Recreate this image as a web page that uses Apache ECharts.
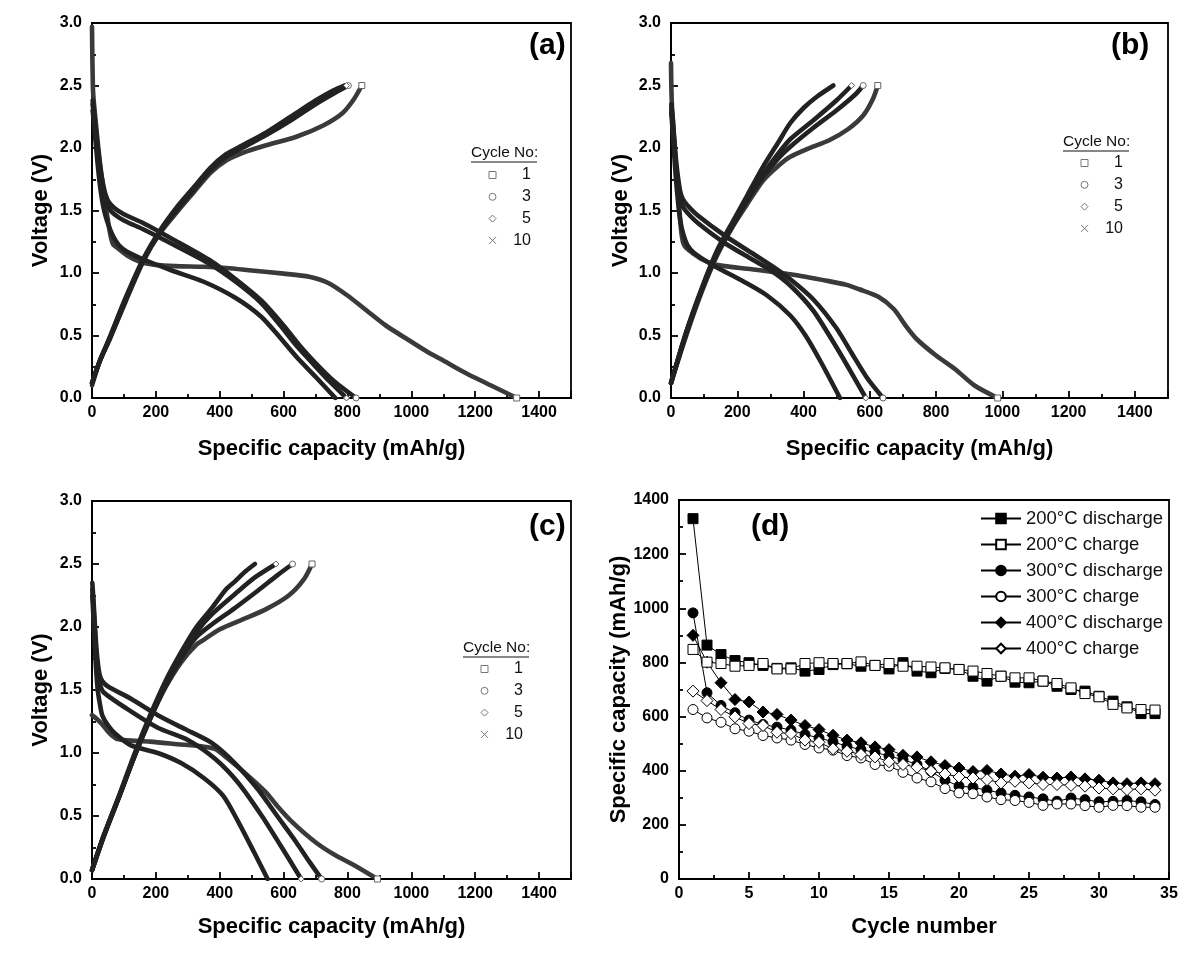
<!DOCTYPE html>
<html>
<head>
<meta charset="utf-8">
<script src="https://cdn.jsdelivr.net/npm/echarts@6/dist/echarts.min.js"></script>
<style>html,body{margin:0;padding:0;background:#fff}#c{width:1200px;height:957px}</style>
</head>
<body>
<div id="c"></div>
<script>
// ---------- Data: panel (a) 200 °C ----------
const a_dis1 = [[0,2.97],[1,2.75],[2,2.6],[3,2.47],[6,2.36],[12,2.2],[19,2.02],[26,1.86],[34,1.7],[42,1.55],[50,1.42],[58,1.3],[66,1.23],[80,1.2],[110,1.14],[150,1.09],[200,1.065],[260,1.055],[350,1.05],[420,1.04],[500,1.02],[600,0.995],[680,0.97],[740,0.92],[800,0.82],[860,0.7],[920,0.58],[1000,0.45],[1050,0.37],[1100,0.3],[1170,0.2],[1250,0.1],[1330,0]];
const a_dis3 = [[2,2.38],[7,2.27],[13,2.12],[19,1.98],[26,1.84],[34,1.72],[42,1.63],[52,1.57],[70,1.52],[100,1.47],[160,1.4],[260,1.26],[370,1.1],[450,0.95],[530,0.78],[600,0.58],[650,0.42],[700,0.28],[760,0.13],[827,0]];
const a_dis5 = [[2,2.35],[7,2.24],[13,2.08],[19,1.93],[26,1.79],[34,1.66],[42,1.58],[52,1.52],[70,1.47],[100,1.42],[160,1.35],[260,1.22],[370,1.07],[450,0.93],[530,0.76],[590,0.58],[640,0.42],[690,0.28],[745,0.13],[797,0]];
const a_dis10 = [[2,2.3],[7,2.18],[13,2.0],[19,1.84],[26,1.68],[34,1.55],[42,1.46],[52,1.38],[65,1.3],[85,1.22],[110,1.17],[160,1.11],[250,1.02],[350,0.93],[450,0.8],[530,0.65],[590,0.48],[640,0.33],[700,0.17],[762,0]];
const a_chg1 = [[0,0.1],[25,0.3],[55,0.47],[105,0.77],[160,1.09],[213,1.32],[270,1.5],[320,1.65],[370,1.8],[420,1.9],[470,1.96],[543,2.02],[640,2.09],[724,2.18],[785,2.28],[820,2.39],[845,2.5]];
const a_chg3 = [[0,0.12],[25,0.3],[55,0.47],[105,0.78],[160,1.1],[213,1.33],[270,1.52],[320,1.67],[370,1.82],[420,1.93],[470,2.0],[543,2.1],[622,2.22],[700,2.35],[760,2.44],[803,2.5]];
const a_chg5 = [[0,0.12],[25,0.3],[55,0.48],[105,0.79],[160,1.1],[213,1.33],[270,1.53],[320,1.68],[370,1.83],[420,1.94],[470,2.01],[543,2.11],[622,2.23],[700,2.36],[760,2.45],[797,2.5]];
const a_chg10 = [[0,0.12],[25,0.3],[55,0.48],[105,0.8],[160,1.11],[213,1.34],[270,1.54],[320,1.69],[370,1.84],[420,1.95],[470,2.02],[543,2.12],[622,2.25],[700,2.38],[755,2.46],[790,2.5]];

// ---------- Data: panel (b) 300 °C ----------
const b_dis1 = [[0,2.68],[1,2.5],[3,2.33],[7,2.18],[11,2.0],[16,1.84],[21,1.66],[26,1.48],[31,1.33],[37,1.24],[46,1.2],[70,1.15],[93,1.11],[130,1.07],[162,1.055],[244,1.03],[360,0.99],[476,0.935],[530,0.905],[568,0.87],[626,0.81],[673,0.71],[708,0.58],[742,0.47],[800,0.34],[858,0.23],[916,0.1],[986,0]];
const b_dis3 = [[1,2.35],[6,2.2],[11,2.03],[16,1.88],[22,1.75],[28,1.65],[36,1.59],[50,1.54],[81,1.46],[162,1.3],[244,1.16],[302,1.06],[360,0.95],[429,0.79],[499,0.56],[545,0.36],[592,0.16],[640,0]];
const b_dis5 = [[1,2.32],[6,2.16],[11,1.98],[16,1.82],[22,1.68],[28,1.59],[36,1.53],[50,1.48],[81,1.4],[162,1.24],[244,1.11],[302,1.02],[360,0.9],[429,0.7],[487,0.46],[534,0.25],[588,0]];
const b_dis10 = [[1,2.28],[6,2.1],[11,1.9],[16,1.72],[22,1.55],[28,1.42],[36,1.32],[50,1.22],[70,1.16],[128,1.06],[220,0.93],[290,0.82],[360,0.66],[406,0.5],[452,0.29],[510,0]];
const b_chg1 = [[0,0.12],[46,0.5],[93,0.85],[139,1.14],[186,1.37],[232,1.56],[278,1.74],[325,1.86],[360,1.93],[418,2.0],[476,2.06],[534,2.15],[580,2.26],[609,2.39],[624,2.5]];
const b_chg3 = [[0,0.12],[46,0.52],[93,0.87],[139,1.16],[186,1.38],[232,1.59],[278,1.77],[325,1.92],[360,2.01],[429,2.16],[499,2.3],[557,2.43],[580,2.5]];
const b_chg5 = [[0,0.12],[46,0.52],[93,0.87],[139,1.16],[186,1.39],[232,1.6],[278,1.79],[325,1.96],[360,2.07],[429,2.22],[499,2.38],[545,2.5]];
const b_chg10 = [[0,0.12],[46,0.53],[93,0.88],[139,1.18],[186,1.41],[232,1.63],[278,1.85],[325,2.05],[360,2.2],[400,2.32],[440,2.41],[490,2.5]];

// ---------- Data: panel (c) 400 °C ----------
const c_dis1 = [[0,1.3],[15,1.27],[31,1.23],[50,1.17],[62,1.14],[80,1.11],[110,1.1],[182,1.09],[267,1.07],[351,1.05],[387,1.03],[423,0.96],[484,0.83],[544,0.69],[580,0.58],[628,0.45],[701,0.29],[761,0.19],[821,0.11],[894,0]];
const c_dis3 = [[1,2.35],[5,2.2],[9,2.02],[13,1.86],[18,1.72],[24,1.62],[32,1.57],[49,1.53],[122,1.43],[206,1.3],[291,1.19],[375,1.08],[447,0.92],[520,0.71],[580,0.5],[640,0.29],[680,0.14],[719,0]];
const c_dis5 = [[1,2.3],[5,2.14],[9,1.96],[13,1.8],[18,1.65],[24,1.55],[37,1.48],[110,1.35],[206,1.2],[303,1.1],[387,0.95],[459,0.76],[532,0.5],[592,0.26],[655,0]];
const c_dis10 = [[1,2.25],[5,2.05],[9,1.84],[13,1.66],[18,1.5],[24,1.4],[32,1.3],[50,1.22],[74,1.15],[122,1.06],[206,1.0],[279,0.92],[351,0.8],[411,0.66],[459,0.45],[508,0.21],[550,0]];
const c_chg1 = [[0,0.07],[37,0.34],[86,0.66],[134,0.98],[182,1.27],[230,1.52],[279,1.72],[327,1.86],[351,1.9],[399,1.98],[472,2.06],[544,2.14],[616,2.25],[664,2.38],[689,2.5]];
const c_chg3 = [[0,0.07],[37,0.34],[86,0.66],[134,0.98],[182,1.27],[230,1.53],[279,1.75],[327,1.92],[375,2.02],[447,2.15],[520,2.29],[580,2.41],[628,2.5]];
const c_chg5 = [[0,0.07],[37,0.34],[86,0.66],[134,0.98],[182,1.28],[230,1.55],[279,1.77],[327,1.96],[375,2.1],[447,2.26],[508,2.39],[576,2.5]];
const c_chg10 = [[0,0.07],[37,0.35],[86,0.67],[134,1.0],[182,1.3],[230,1.57],[279,1.8],[327,2.0],[375,2.15],[420,2.3],[447,2.36],[480,2.44],[510,2.5]];

// ---------- Data: panel (d) cycling ----------
const cycles = [1,2,3,4,5,6,7,8,9,10,11,12,13,14,15,16,17,18,19,20,21,22,23,24,25,26,27,28,29,30,31,32,33,34];
const d200_dis = [1331,864,829,807,799,789,778,780,768,774,792,795,786,789,776,799,768,762,778,774,749,731,749,727,725,731,712,700,694,675,657,636,611,611];
const d200_chg = [848,801,796,786,789,796,776,776,796,799,796,796,802,789,796,786,786,783,780,774,768,759,749,743,743,731,722,706,685,673,645,632,626,624];
const d300_dis = [983,688,641,614,587,571,561,550,534,521,507,490,478,468,454,441,423,398,365,343,339,328,318,309,303,296,287,299,293,285,287,290,285,275];
const d300_chg = [626,595,579,555,546,530,521,513,497,484,476,456,447,423,417,394,373,359,334,318,315,303,293,290,283,272,277,277,271,265,272,271,265,265];
const d400_dis = [900,801,725,663,654,617,608,587,567,552,531,513,503,488,478,457,451,433,419,410,397,401,388,380,386,376,373,377,370,365,355,352,355,352];
const d400_chg = [694,659,626,599,574,567,542,537,513,505,481,472,460,451,433,423,413,398,388,377,373,367,355,361,355,349,349,346,343,336,333,330,333,328];

const cycleNames = ['1','3','5','10'];
const seriesNames = ['200\u00B0C discharge','200\u00B0C charge','300\u00B0C discharge','300\u00B0C charge','400\u00B0C discharge','400\u00B0C charge'];

// ---------- Build ----------
const FONT = '"Liberation Sans", Arial, sans-serif';
const grids = [
  {left:92, top:23, width:479, height:375},
  {left:671, top:23, width:497, height:375},
  {left:92, top:501, width:479, height:378},
  {left:679, top:500, width:490, height:379}
].map(g => Object.assign({show:true, borderColor:'#000', borderWidth:1.8, backgroundColor:'transparent'}, g));

const lineSt = {color:'#000', width:1.8};
function xAxisCfg(gi, max, interval, name, gap){
  return {
    type:'value', gridIndex:gi, min:0, max:max, interval:interval,
    name:name, nameLocation:'middle', nameGap:gap,
    nameTextStyle:{fontFamily:FONT, fontWeight:'bold', fontSize:22, color:'#000'},
    axisLine:{show:true, onZero:false, lineStyle:lineSt},
    axisTick:{show:true, inside:true, length:7, lineStyle:lineSt},
    minorTick:{show:true, splitNumber:2, length:4, lineStyle:lineSt},
    splitLine:{show:false},
    axisLabel:{fontFamily:FONT, fontWeight:'bold', fontSize:16, color:'#000', margin:7, showMaxLabel:false,
      formatter: v => String(v)}
  };
}
function yAxisCfg(gi, max, interval, name, gap, dec){
  return {
    type:'value', gridIndex:gi, min:0, max:max, interval:interval,
    name:name, nameLocation:'middle', nameGap:gap,
    nameTextStyle:{fontFamily:FONT, fontWeight:'bold', fontSize:22, color:'#000'},
    axisLine:{show:true, onZero:false, lineStyle:lineSt},
    axisTick:{show:true, inside:true, length:7, lineStyle:lineSt},
    minorTick:{show:true, splitNumber:2, length:4, lineStyle:lineSt},
    splitLine:{show:false},
    axisLabel:{fontFamily:FONT, fontWeight:'bold', fontSize:16, color:'#000', margin:10,
      formatter: v => dec ? v.toFixed(dec) : String(v)}
  };
}
const capName = 'Specific capacity (mAh/g)';
const xAxes = [
  xAxisCfg(0,1500,200,capName,40), xAxisCfg(1,1500,200,capName,40), xAxisCfg(2,1500,200,capName,37),
  xAxisCfg(3,35,5,'Cycle number',37)
];
xAxes[3].axisLabel.showMaxLabel = true;
const yAxes = [
  yAxisCfg(0,3,0.5,'Voltage (V)',40,1), yAxisCfg(1,3,0.5,'Voltage (V)',39,1), yAxisCfg(2,3,0.5,'Voltage (V)',40,1),
  yAxisCfg(3,1400,200,'Specific capacity (mAh/g)',48,0)
];

const panels = [
  [[a_dis1,a_chg1],[a_dis3,a_chg3],[a_dis5,a_chg5],[a_dis10,a_chg10]],
  [[b_dis1,b_chg1],[b_dis3,b_chg3],[b_dis5,b_chg5],[b_dis10,b_chg10]],
  [[c_dis1,c_chg1],[c_dis3,c_chg3],[c_dis5,c_chg5],[c_dis10,c_chg10]]
];
const endSym = ['rect','circle','diamond','none'];
const series = [];
panels.forEach((p, gi) => {
  p.forEach((pair, ci) => {
    pair.forEach(arr => {
      const last = arr.length - 1;
      series.push({
        type:'line', name:cycleNames[ci], xAxisIndex:gi, yAxisIndex:gi,
        data: arr.map((pt, k) => k === last
          ? {value:pt, symbol:endSym[ci], symbolSize:6, itemStyle:{color:'#fff', borderColor:'#666', borderWidth:1}}
          : {value:pt, symbol:'none'}),
        smooth:0.25, showSymbol:true, showAllSymbol:true, symbol:'none', silent:true,
        lineStyle:{color: ci===0 ? '#3a3a3a' : '#222', width:4.6, cap:'round', join:'round'},
        itemStyle:{color:'#333'}
      });
    });
  });
});
const dData = [d200_dis,d200_chg,d300_dis,d300_chg,d400_dis,d400_chg];
const dSym = ['rect','rect','circle','circle','diamond','diamond'];
dData.forEach((vals, i) => {
  const filled = i % 2 === 0;
  series.push({
    type:'line', name:seriesNames[i], xAxisIndex:3, yAxisIndex:3,
    data: cycles.map((c, k) => [c, vals[k]]),
    symbol:dSym[i], symbolSize: dSym[i]==='diamond' ? 12 : 10, showSymbol:true,
    lineStyle:{color:'#000', width:1},
    itemStyle: filled ? {color:'#000', borderColor:'#000', borderWidth:1} : {color:'#fff', borderColor:'#000', borderWidth:1},
    z: filled ? 3 : 4
  });
});

const crossPath = 'path://M0,0L10,10M10,0L0,10';
function cycleLegend(left, top){
  const icons = ['rect','circle','diamond',crossPath];
  return {
    orient:'vertical', left:left, top:top, padding:0, itemWidth:7, itemHeight:7, itemGap:5.8,
    selectedMode:false,
    data: cycleNames.map((n, i) => ({name:n, icon:icons[i],
      itemStyle:{color: i===3 ? 'none' : '#fff', borderColor:'#777', borderWidth:1}})),
    formatter: n => '{n|' + n + '}',
    textStyle:{fontFamily:FONT, fontSize:16, color:'#111',
      rich:{n:{width:30, align:'right', fontFamily:FONT, fontSize:16, color:'#111'}}}
  };
}
const legends = [
  cycleLegend(486.5,167),
  cycleLegend(1078.5,155),
  cycleLegend(478.5,661),
  {
    orient:'vertical', left:980, top:509, padding:0, itemWidth:40, itemHeight:12, itemGap:7,
    selectedMode:false, data: seriesNames,
    textStyle:{fontFamily:FONT, fontSize:18.5, color:'#111'}
  }
];
const graphics = [];
function label(txt, x, y){
  graphics.push({type:'text', left:x, top:y, style:{text:txt, fontFamily:FONT, fontWeight:'bold', fontSize:30, fill:'#000'}});
}
label('(a)', 529, 31); label('(b)', 1111, 31); label('(c)', 529, 512); label('(d)', 751, 512);
function cycleTitle(x, y){
  graphics.push({type:'text', left:x, top:y, style:{text:'Cycle No:', fontFamily:FONT, fontSize:15.5, fill:'#111'}});
  graphics.push({type:'line', shape:{x1:x, y1:y+17, x2:x+66, y2:y+17}, style:{stroke:'#111', lineWidth:1.2}});
}
cycleTitle(471, 145); cycleTitle(1063, 134); cycleTitle(463, 640);

const chart = echarts.init(document.getElementById('c'), null, {renderer:'canvas'});
chart.setOption({
  animation:false,
  backgroundColor:'#fff',
  grid:grids, xAxis:xAxes, yAxis:yAxes, series:series, legend:legends, graphic:graphics
});
</script>
</body>
</html>
